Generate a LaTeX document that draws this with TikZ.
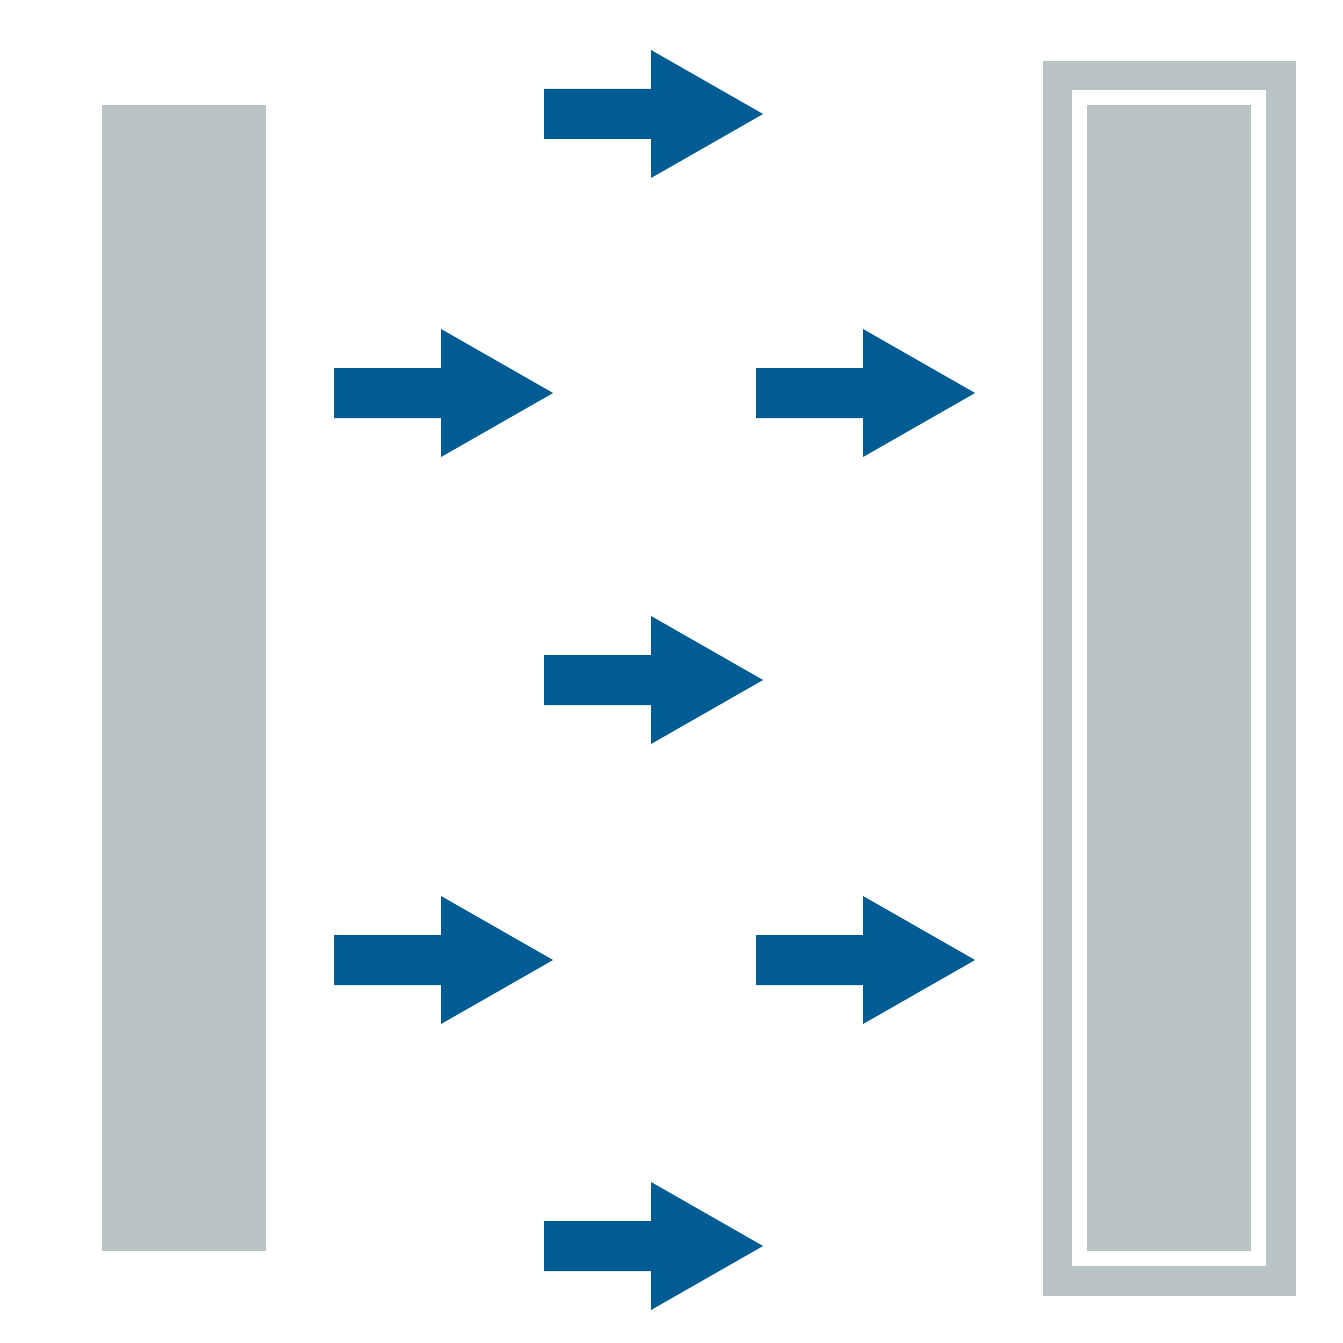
\documentclass[tikz,border=0pt]{standalone}
\usepackage{tikz}
\definecolor{slabGray}{HTML}{B9C3C5}
\definecolor{flowBlue}{HTML}{005C92}

\begin{document}
\begin{tikzpicture}[
x=0.01cm, y=-0.01cm,
slab/.style={fill=slabGray, draw=none},
gap/.style={fill=white, draw=none},
flow/.style={fill=flowBlue, draw=none},
pics/blockarrow/.style={code={
  \fill[flow] (0,-25) -- (107,-25) -- (107,-64) -- (219,0) -- (107,64) -- (107,25) -- (0,25) -- cycle;
}}
]
\useasboundingbox (0,0) rectangle (1343,1343);

% Left slab
\fill[slab] (102,105) rectangle (266,1251);

% Right slab with frame
\fill[slab] (1043,61) rectangle (1296,1296);
\fill[gap] (1072,90) rectangle (1266,1266);
\fill[slab] (1087,105) rectangle (1251,1251);

% Flow arrows
\foreach \xa/\ya in {544/114, 334/393, 756/393, 544/680, 334/960, 756/960, 544/1246}
  \pic at (\xa,\ya) {blockarrow};
\end{tikzpicture}
\end{document}
